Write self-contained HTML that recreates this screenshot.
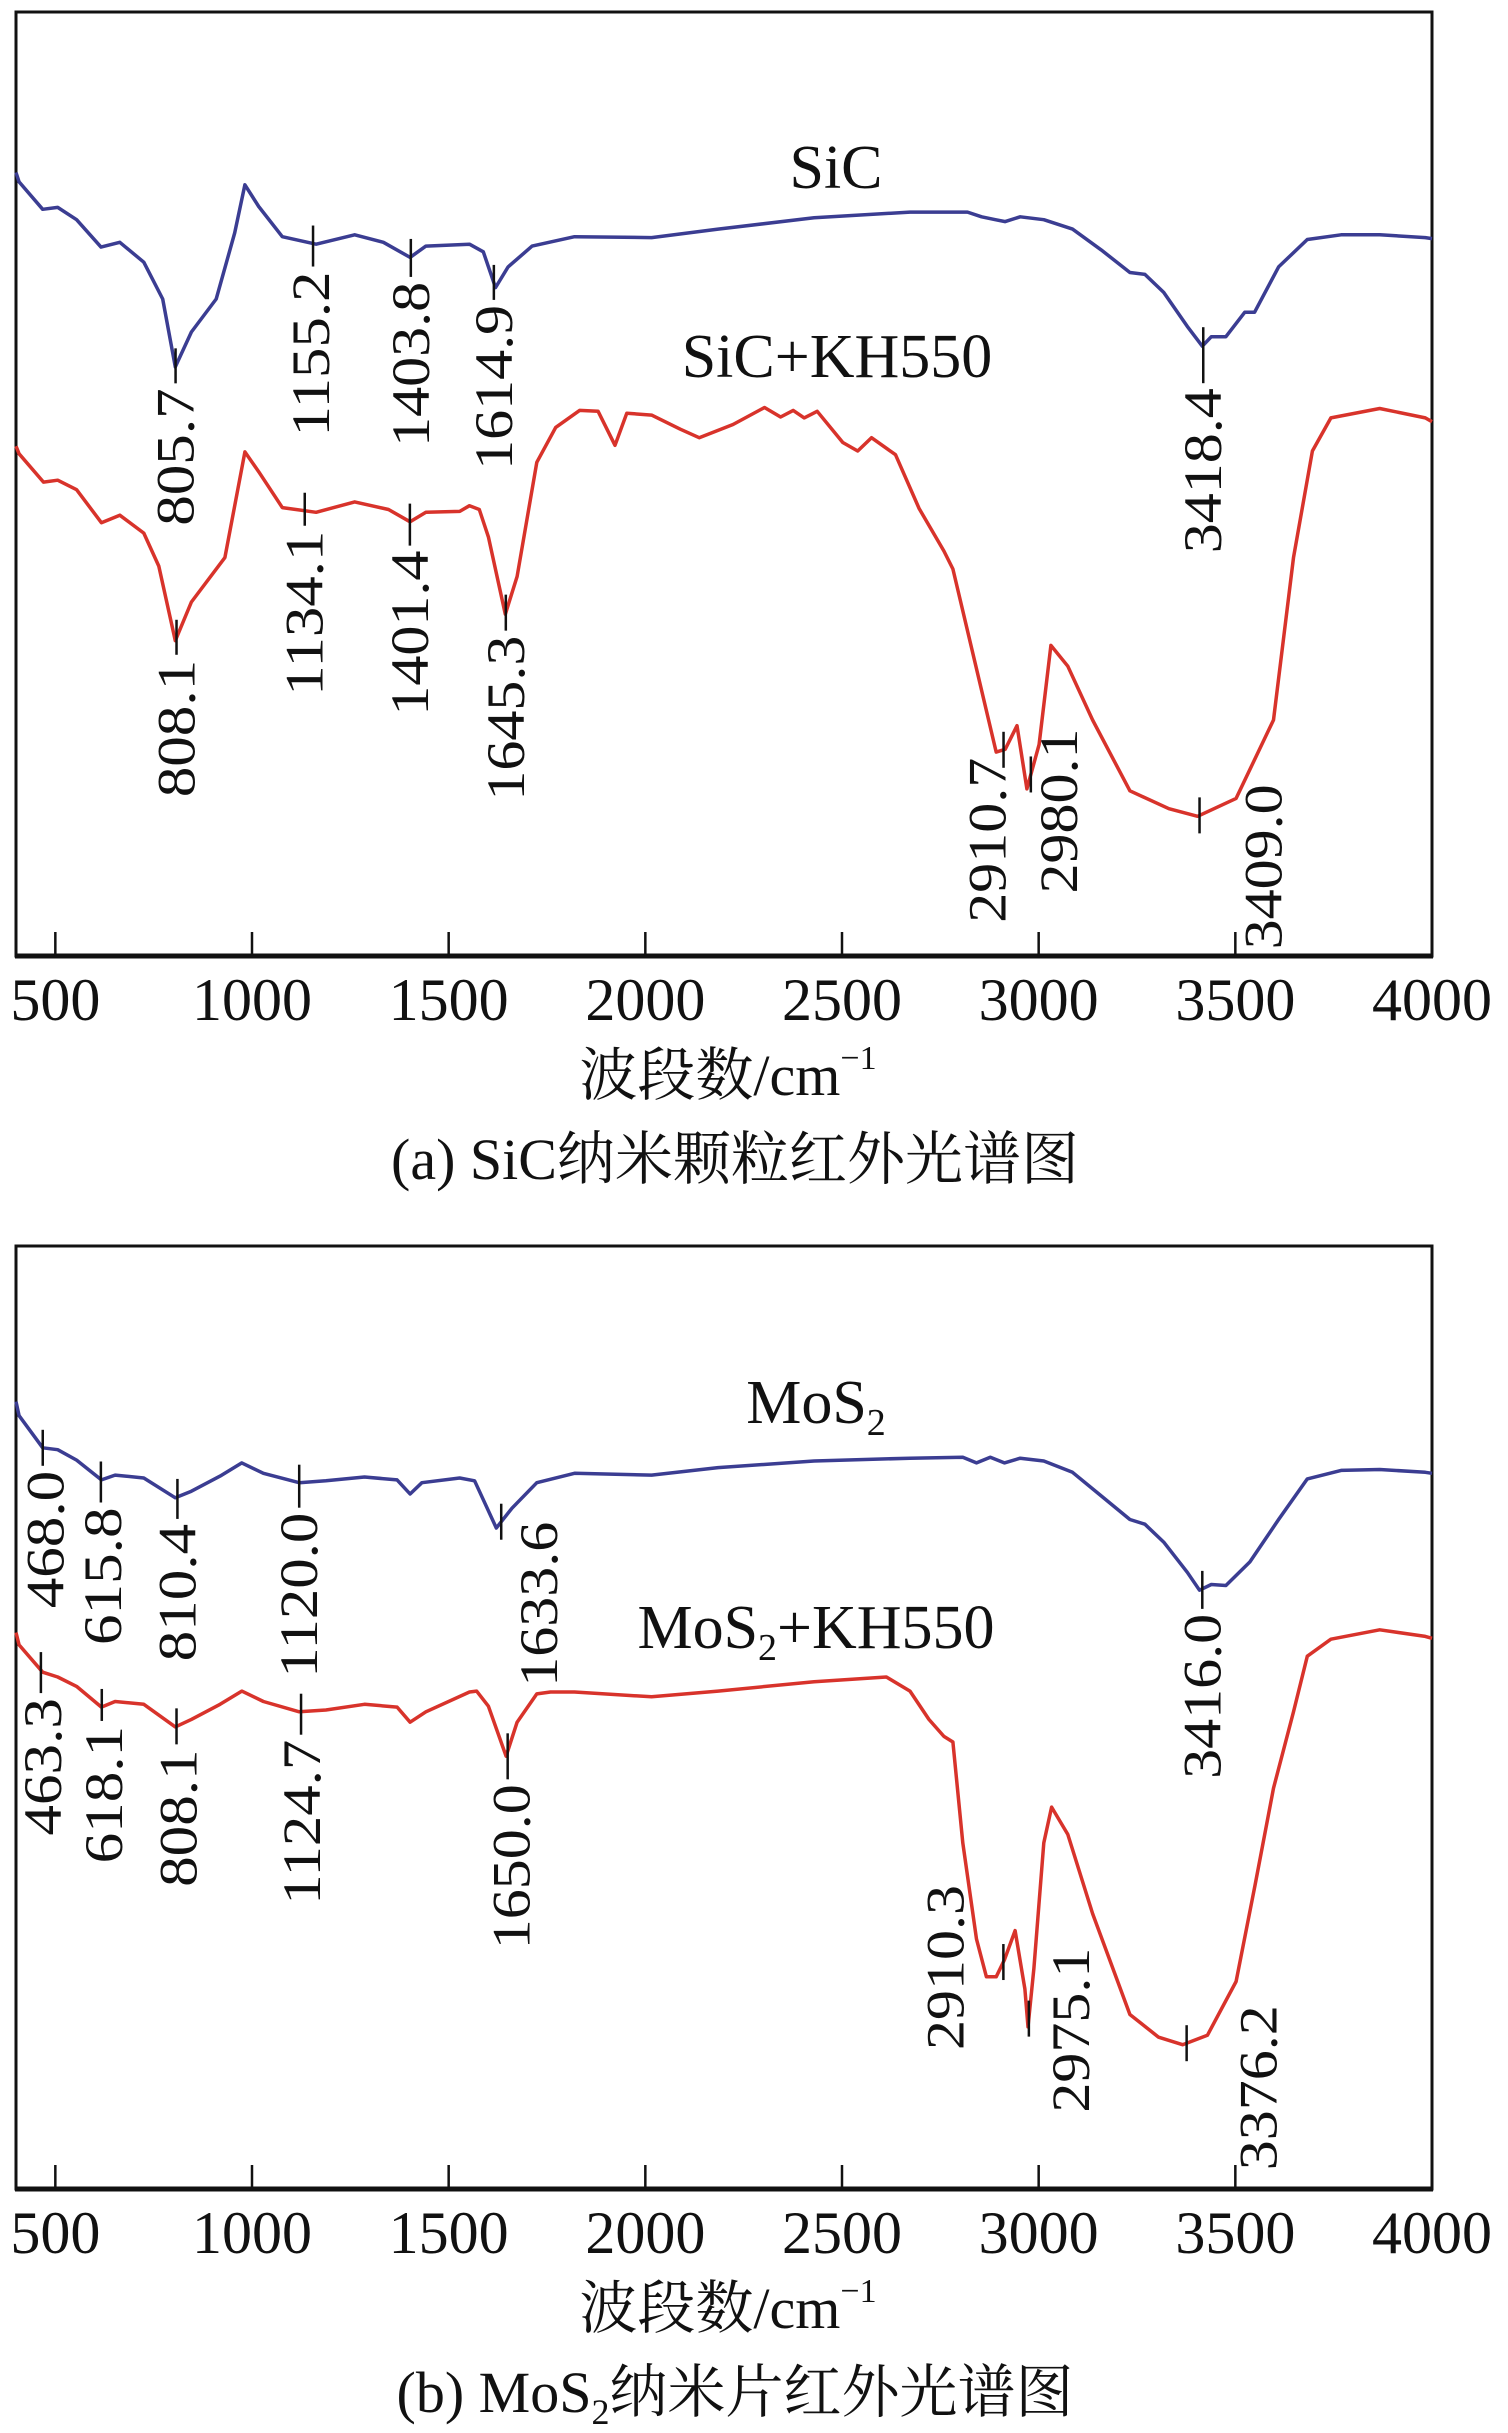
<!DOCTYPE html>
<html><head><meta charset="utf-8">
<style>
html,body{margin:0;padding:0;background:#fff;}
svg{display:block;}
text{font-family:"Liberation Serif","Noto Serif CJK SC","Noto Sans CJK SC",serif;fill:#111;}
</style></head>
<body>
<svg id="chart" width="1508" height="2433" viewBox="0 0 1508 2433" xmlns="http://www.w3.org/2000/svg"></svg>
<script>
// ---------- data ----------
const xTicks = [500,1000,1500,2000,2500,3000,3500,4000];

const sicWave = [400,408,468,506,554,616,664,725,773,805,846,909,956,982,1017,1077,1163,1261,1334,1402,1442,1553,1588,1619,1651,1712,1820,2016,2185,2429,2673,2819,2855,2890,2915,2953,3013,3086,3159,3232,3270,3318,3378,3416,3439,3476,3524,3549,3610,3683,3769,3867,3983,4000];
const sicVal  = [83,82.0,79.1,79.3,78.0,75.1,75.6,73.5,69.6,62.4,66.1,69.6,76.6,81.7,79.4,76.2,75.4,76.4,75.6,74.0,75.2,75.4,74.6,70.8,73.0,75.2,76.2,76.1,77.0,78.2,78.8,78.8,78.3,78.0,77.8,78.3,78.0,77.0,74.8,72.4,72.2,70.3,66.7,64.6,65.6,65.6,68.2,68.2,73.0,75.9,76.4,76.4,76.1,76.0];

const sicKhWave = [400,408,470,506,554,617,664,725,763,805,846,931,982,1017,1077,1163,1261,1347,1402,1442,1528,1553,1578,1601,1644,1674,1724,1772,1833,1880,1923,1953,2016,2089,2137,2223,2303,2344,2376,2404,2437,2502,2540,2575,2636,2696,2759,2782,2892,2915,2945,2970,3001,3031,3074,3137,3232,3331,3404,3502,3597,3648,3696,3743,3867,3983,4000];
const sicKhVal  = [54,53.2,50.2,50.4,49.4,45.9,46.7,44.8,41.3,33.4,37.5,42.2,53.4,51.3,47.5,47.0,48.1,47.3,46.0,47.0,47.1,47.7,47.3,44.4,36.2,40.2,52.3,56.0,57.8,57.7,54.1,57.5,57.3,55.8,54.9,56.3,58.1,57.1,57.8,57.0,57.7,54.4,53.5,54.9,53.1,47.4,42.9,41.0,21.6,21.9,24.4,17.7,22.4,32.9,30.7,25.0,17.5,15.6,14.8,16.7,25.0,42.2,53.5,57.0,58.0,57.0,56.6];

const mosWave = [400,408,468,506,554,617,652,725,805,846,919,974,1029,1120,1188,1286,1369,1402,1432,1528,1566,1621,1661,1724,1820,2016,2185,2429,2673,2807,2842,2877,2913,2953,3013,3086,3159,3232,3270,3318,3378,3409,3439,3476,3537,3610,3683,3769,3867,3983,4000];
const mosVal  = [83.5,82.0,78.6,78.4,77.3,75.2,75.7,75.4,73.3,74.0,75.6,77.0,75.9,74.9,75.1,75.5,75.2,73.7,74.9,75.4,75.1,70.1,72.2,74.9,75.9,75.7,76.5,77.2,77.5,77.6,77.0,77.6,77.0,77.5,77.2,76.0,73.5,71.0,70.5,68.6,65.4,63.5,64.1,64.0,66.5,71.0,75.3,76.2,76.3,76.0,75.9];

const mosKhWave = [400,408,468,506,554,617,652,725,805,846,919,974,1029,1120,1188,1286,1369,1402,1442,1553,1571,1601,1646,1674,1724,1759,1820,2016,2185,2429,2613,2673,2721,2759,2782,2807,2842,2867,2892,2913,2940,2965,2973,2988,3013,3033,3074,3137,3232,3305,3366,3429,3502,3550,3597,3648,3683,3743,3867,3983,4000];
const mosKhVal  = [59,57.7,54.8,54.3,53.3,51.1,51.7,51.4,49.0,49.8,51.4,52.8,51.7,50.6,50.8,51.4,51.1,49.5,50.6,52.7,52.8,51.2,45.9,49.5,52.5,52.7,52.7,52.2,52.8,53.8,54.3,52.8,49.8,48.0,47.4,36.7,26.5,22.5,22.5,24.3,27.4,21.2,17.2,23.4,36.7,40.5,37.6,29.2,18.5,16.1,15.3,16.3,22.0,32.2,42.5,50.6,56.5,58.3,59.3,58.6,58.4];

const sicPeaks = [805.7,1155.2,1403.8,1614.9,3418.4];
const sicPeakText = ["805.7","1155.2","1403.8","1614.9","3418.4"];
const sicKhPeaks = [808.1,1134.1,1401.4,1645.3,2910.7,2980.1,3409.0];
const sicKhPeakText = ["808.1","1134.1","1401.4","1645.3","2910.7","2980.1","3409.0"];
const mosPeaks = [468.0,615.8,810.4,1120.0,1633.6,3416.0];
const mosPeakText = ["468.0","615.8","810.4","1120.0","1633.6","3416.0"];
const mosKhPeaks = [463.3,618.1,808.1,1124.7,1650.0,2910.3,2975.1,3376.2];
const mosKhPeakText = ["463.3","618.1","808.1","1124.7","1650.0","2910.3","2975.1","3376.2"];

// ---------- layout (not data) ----------
const sicLay   = [[0,22],[-2,28],[0,25],[0,22],[0,43]];
const sicKhLay = [[0,22],[0,20],[0,29],[0,23],[-16,8],[28,-46],[64,-31]];
const mosLay   = [[3,23],[2,28],[0,27],[0,30],[38,0],[0,25]];
const mosKhLay = [[2,28],[2,19],[2,23],[1,28],[4,33],[-58,-77],[42,-71],[72,-38]];

const NS = "http://www.w3.org/2000/svg";
const svg = document.getElementById('chart');
const L = 16, R = 1432, XMIN = 400, XMAX = 4000;
function xs(v){ return L + (v - XMIN) / (XMAX - XMIN) * (R - L); }
function mk(tag, attrs, parent){
  const e = document.createElementNS(NS, tag);
  for (const k in attrs) e.setAttribute(k, attrs[k]);
  (parent || svg).appendChild(e);
  return e;
}
function interp(wave, val, v){
  for (let i = 0; i < wave.length - 1; i++){
    if (v >= wave[i] && v <= wave[i+1]){
      const t = (v - wave[i]) / (wave[i+1] - wave[i]);
      return val[i] + t * (val[i+1] - val[i]);
    }
  }
  return val[val.length-1];
}

function panel(id, top, bottom, series, caption, capSub){
  const g = mk('g', {});
  
  
  const ys = v => bottom - v / 100 * (bottom - top);
  const frame = mk('rect', {x:L, y:top, width:R-L, height:bottom-top, fill:'none', stroke:'#111', 'stroke-width':3}, g);
  
  
  const xaxis = mk('line', {x1:L-1, x2:R+1, y1:bottom, y2:bottom, stroke:'#111', 'stroke-width':5}, g);
  
  
  xTicks.forEach(t => {
    const x = xs(t);
    const tl = mk('line', {x1:x, x2:x, y1:bottom, y2:bottom-24, stroke:'#111', 'stroke-width':2.5}, g);
    
    
    const tx = mk('text', {x:x, y:bottom+64, 'text-anchor':'middle', 'font-size':60}, g);
    
    
    tx.textContent = t;
  });
  const at = mk('text', {x:728, y:bottom+139, 'text-anchor':'middle', 'font-size':58}, g);
  
  
  at.appendChild(document.createTextNode('波段数/cm'));
  const sup = mk('tspan', {'font-size':34, dy:-26}, at);
  sup.textContent = '−1';
  const cp = mk('text', {x:735, y:bottom+223, 'text-anchor':'middle', 'font-size':58}, g);
  
  
  cp.appendChild(document.createTextNode(caption[0]));
  if (capSub){
    const s = mk('tspan', {'font-size':36, dy:12}, cp); s.textContent = capSub;
    const r = mk('tspan', {dy:-12}, cp); r.textContent = caption[1];
  }

  series.forEach(s => {
    const d = s.wave.map((w,i) => (i?'L':'M') + xs(w).toFixed(1) + ',' + ys(s.val[i]).toFixed(1)).join(' ');
    const p = mk('path', {d:d, fill:'none', stroke:s.color, 'stroke-width':3.5, 'stroke-linejoin':'round'}, g);
    
    
    const lb = mk('text', {x:s.lx, y:s.ly, 'text-anchor':'middle', 'font-size':62}, g);
    
    
    s.label.forEach(part => {
      if (part.sub){ const t = mk('tspan', {'font-size':38, dy:12}, lb); t.textContent = part.t; }
      else { const t = mk('tspan', {dy: part.up ? -12 : 0}, lb); t.textContent = part.t; }
    });
    s.peaks.forEach((pk, i) => {
      const x = xs(pk);
      const cy = ys(interp(s.wave, s.val, pk));
      const dx = s.lay[i][0], dy = s.lay[i][1];
      const y2 = dy > 10 ? cy + dy - 5 : cy + 18;
      const ln = mk('line', {x1:x, x2:x, y1:cy-18, y2:y2, stroke:'#111', 'stroke-width':2.5}, g);
      
      
      const txt = s.ptext[i];
      const top2 = cy + dy;
      const len = txt.length * 27.5;
      const t = mk('text', {transform:'translate(' + (x+dx).toFixed(1) + ',' + top2.toFixed(1) + ') rotate(-90)', 'text-anchor':'end', 'dominant-baseline':'central', 'font-size':54, textLength:len, lengthAdjust:'spacingAndGlyphs'}, g);
      
      
      t.textContent = txt;
    });
  });
}

panel('sic', 12, 956, [
  {name:'sic', wave:sicWave, val:sicVal, color:'#3b3d92', peaks:sicPeaks, ptext:sicPeakText, lay:sicLay, lx:836, ly:188, label:[{t:'SiC'}]},
  {name:'sic-kh550', wave:sicKhWave, val:sicKhVal, color:'#d8332b', peaks:sicKhPeaks, ptext:sicKhPeakText, lay:sicKhLay, lx:837, ly:377, label:[{t:'SiC+KH550'}]}
], ['(a) SiC纳米颗粒红外光谱图'], null);

panel('mos2', 1246, 2189, [
  {name:'mos2', wave:mosWave, val:mosVal, color:'#3b3d92', peaks:mosPeaks, ptext:mosPeakText, lay:mosLay, lx:816, ly:1423, label:[{t:'MoS'},{t:'2',sub:true}]},
  {name:'mos2-kh550', wave:mosKhWave, val:mosKhVal, color:'#d8332b', peaks:mosKhPeaks, ptext:mosKhPeakText, lay:mosKhLay, lx:816, ly:1648, label:[{t:'MoS'},{t:'2',sub:true},{t:'+KH550',up:true}]}
], ['(b) MoS', '纳米片红外光谱图'], '2');
</script>
</body></html>
